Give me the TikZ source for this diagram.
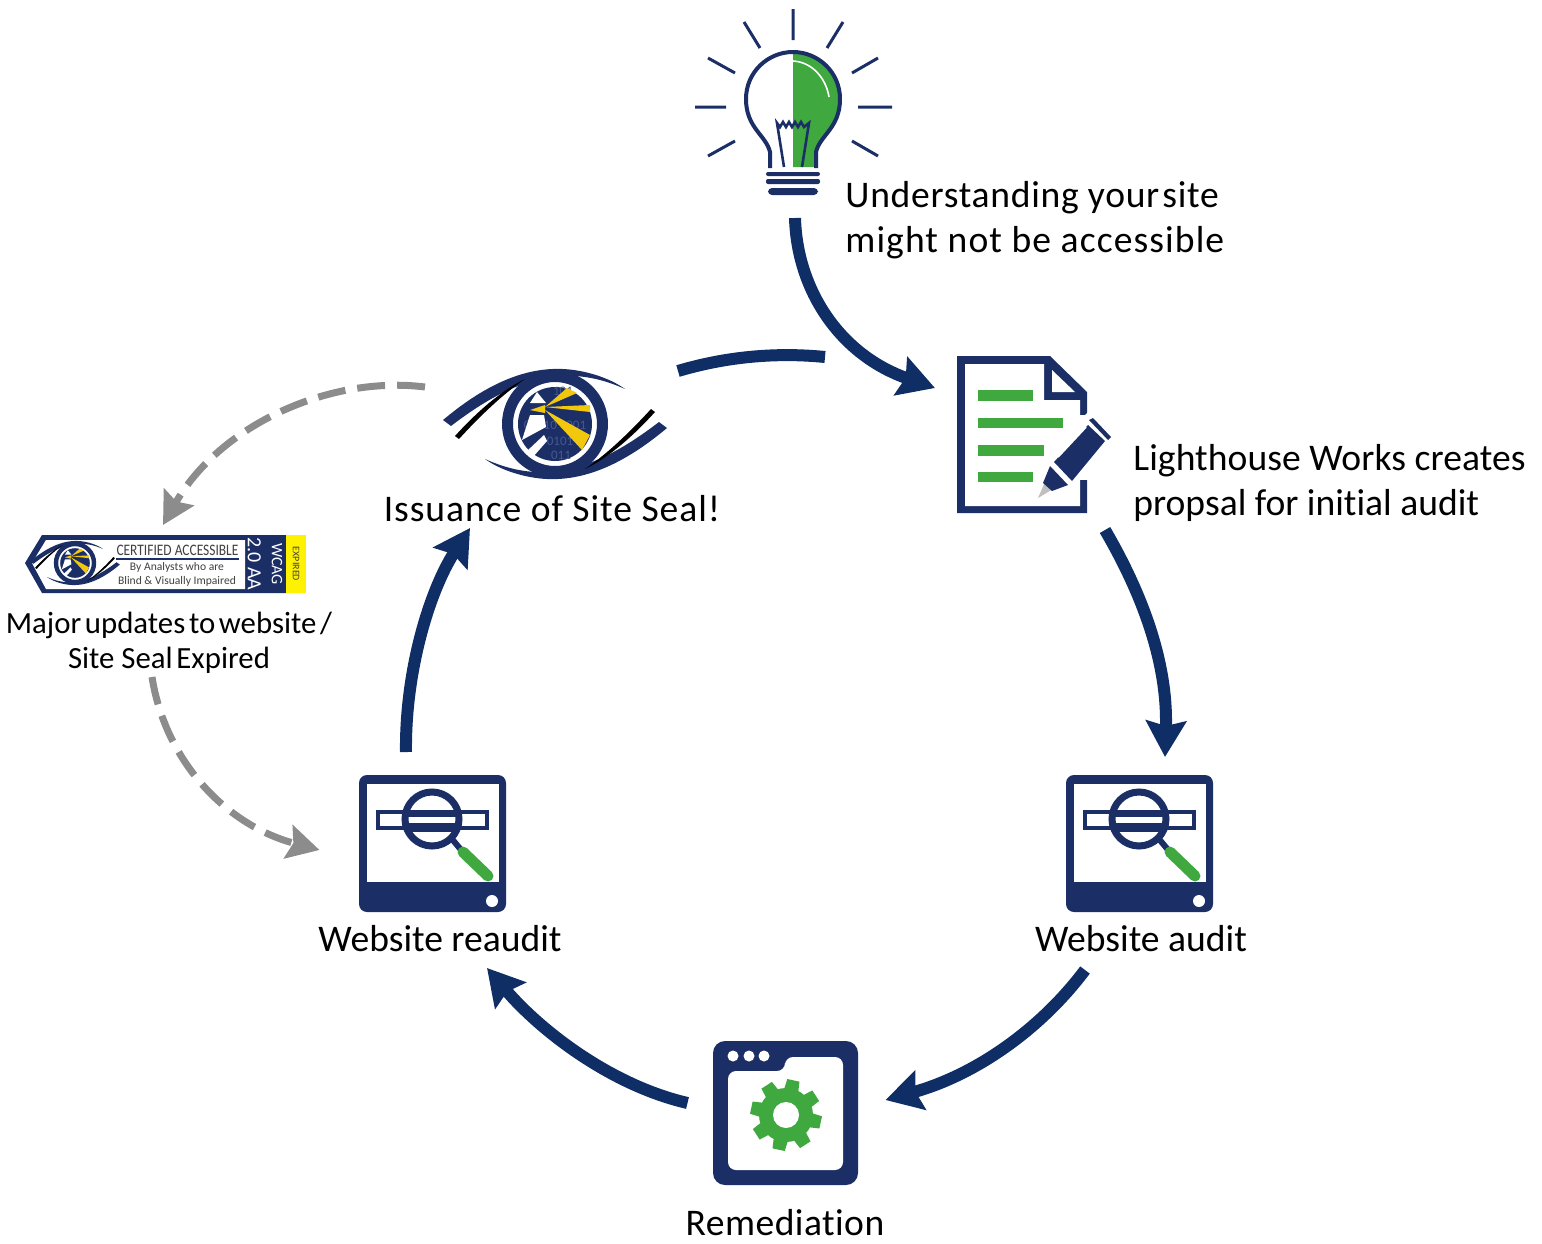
\documentclass[tikz,border=0pt]{standalone}
\usepackage{fontspec}
\usepackage{graphicx}
\setmainfont[Ligatures=CommonOff]{Carlito}
\usetikzlibrary{arrows.meta}
\definecolor{navy}{HTML}{1B2F66}
\definecolor{flownavy}{HTML}{0F2E66}
\definecolor{leaf}{HTML}{3FA83F}
\definecolor{beam}{HTML}{F2C80F}
\definecolor{dashgrey}{HTML}{8C8C8C}
\definecolor{digit}{HTML}{46578F}
\tikzset{
 iconbox/.style={inner sep=0pt,outer sep=0pt},
 flow/.style={draw=flownavy,line width=6pt,-{Stealth[length=18pt,width=20pt,inset=2.5pt]}},
 flowplain/.style={draw=flownavy,line width=6pt},
 update/.style={draw=dashgrey,line width=3.5pt,dash pattern=on 14pt off 6pt,-{Stealth[length=16pt,width=17pt,inset=2.5pt,sep=0pt]}},
 biglabel/.style={inner sep=0pt,font=\fontsize{18.8}{22.5}\selectfont,align=left,text=black},
 midlabel/.style={inner sep=0pt,font=\fontsize{15.4}{17.5}\selectfont,align=center,text=black},
 pics/auditicon/.style={code={
  \fill[navy,rounded corners=4pt] (-73,-68) rectangle (74,69);
  \fill[white] (-65,-59) rectangle (67,39);
  \draw[navy,line width=2.2pt] (-54,-31) rectangle (55,-15);
  \begin{scope}
   \clip (0,-24) circle (27);
   \fill[navy] (-30,-32) rectangle (30,-26);
   \fill[navy] (-30,-20) rectangle (30,-11);
  \end{scope}
  \draw[navy,line width=3.5pt] (0,-24) circle (27);
  \draw[navy,line width=3pt] (20,-4) -- (30,8);
  \draw[leaf,line width=5.5pt,line cap=round] (31,9) -- (56,33);
  \fill[white] (60,58) circle (6);
 }},
 pics/eyelogo/.style={code={
  \foreach \r in {0,180}{
   \begin{scope}[rotate=\r]
   \fill[navy] (-112,-4) .. controls (-75,-35) and (-35,-57) .. (8,-55) .. controls (30,-54) and (55,-46) .. (70,-35) .. controls (50,-44) and (30,-49) .. (8,-48) .. controls (-33,-46) and (-70,-24) .. (-104,2) -- cycle;
   \fill[black] (-100,12) .. controls (-80,-10) and (-55,-33) .. (-30,-45) .. controls (-52,-30) and (-75,-8) .. (-96,15) -- cycle;
   \end{scope}
  }
  \fill[white] (0,0) circle (50);
  \fill[navy,even odd rule] (0,0) circle (53) (0,0) circle (42);
  \fill[navy] (0,0) circle (37);
  #1
  \fill[beam] (-10,-17) -- (12,-36) -- (22,-31) -- cycle;
  \fill[beam] (-10,-17) -- (35,-19) -- (35,-12) -- cycle;
  \fill[beam] (-10,-14) -- (35,11) -- (27,26) -- cycle;
  \fill[beam] (-10,-19) -- (-25,-14) -- (-10,-11) -- cycle;
  \fill[white] (-18,-32) -- (-9,-21) -- (-25,-21) -- cycle;
  \fill[white] (-25,-9) -- (-11,-9) -- (-9,3) -- (-33,16) -- cycle;
  \fill[white] (-28,27) -- (-11,11) -- (-8,17) -- (-22,33) -- cycle;
 }}
}
\begin{document}
\begin{tikzpicture}[x=0.5pt,y=-0.5pt]
\useasboundingbox (0,0) rectangle (1542,1243);

% ---------- anchors for the icons
\node[iconbox,minimum width=98pt,minimum height=72pt] (bulb) at (793,124) {};
\node[iconbox,minimum width=65pt,minimum height=78.5pt] (doc) at (1022,434.5) {};
\node[iconbox,minimum width=73.5pt,minimum height=68.5pt] (audit) at (1139,843) {};
\node[iconbox,minimum width=73pt,minimum height=72pt] (remed) at (785.5,1113) {};
\node[iconbox,minimum width=73.5pt,minimum height=68.5pt] (reaudit) at (432,843) {};
\node[iconbox,minimum width=110pt,minimum height=55pt] (eye) at (555,424) {};
\node[iconbox,minimum width=140.5pt,minimum height=29pt] (seal) at (165.5,564) {};

% ---------- bulb
\fill[leaf] (793,52) .. controls (818,52) and (840,72) .. (840,99) .. controls (840,128) and (820,135) .. (816,152) -- (816,167) -- (793,167) -- cycle;
\draw[white,line width=.8pt] (793,61) .. controls (812,62) and (826,78) .. (829,97);
\draw[navy,line width=2pt] (770,168) -- (770,152) .. controls (766,135) and (746,128) .. (746,99) .. controls (746,72) and (768,52) .. (793,52) .. controls (818,52) and (840,72) .. (840,99) .. controls (840,128) and (820,135) .. (816,152) -- (816,168);
\draw[navy,line width=1.3pt] (784,167) -- (777,123) -- (780,127) -- (783,122) -- (786,127) -- (789,122) -- (792,127) -- (795,122) -- (798,127) -- (801,122) -- (804,127) -- (809,123) -- (802,167);
\fill[navy,rounded corners=1pt] (766,172) rectangle (820,176);
\fill[navy,rounded corners=1pt] (766,179) rectangle (820,184);
\fill[navy,rounded corners=2pt] (768,188) rectangle (818,195);
\draw[navy,line width=1.5pt] (793,9) -- (793,40) (744,22) -- (760,48) (843,22) -- (827,48) (708,58) -- (735,73) (878,58) -- (852,73) (695,107) -- (726,107) (858,107) -- (892,107) (708,156) -- (735,141) (878,156) -- (852,141);

% ---------- document
\fill[navy] (957,356) -- (1050,356) -- (1087,392) -- (1087,513) -- (957,513) -- cycle;
\fill[white] (965,364) -- (1044,364) -- (1044,400) -- (1080,400) -- (1080,506) -- (965,506) -- cycle;
\fill[white] (1052,370) -- (1052,392) -- (1075,392) -- cycle;
\fill[white] (1079,415) rectangle (1089,480);
\fill[leaf] (978,390) rectangle (1033,401);
\fill[leaf] (978,418) rectangle (1063,428);
\fill[leaf] (978,445) rectangle (1044,456);
\fill[leaf] (978,472) rectangle (1033,482);
\fill[white] (1040,500) -- (1052,455) -- (1120,420) -- (1095,405) -- (1060,440) -- cycle;
\fill[lightgray] (1038,498) -- (1045,482) -- (1053,489) -- cycle;
\fill[navy] (1050,466) -- (1068,485) -- (1052,491) -- (1043,483) -- cycle;
\fill[navy] (1054,462) -- (1088,425) -- (1105,441) -- (1072,481) -- cycle;
\fill[navy] (1089,420) -- (1093,418) -- (1111,437) -- (1108,440) -- cycle;
\draw[white,line width=.9pt] (1058,457) -- (1086,427);

% ---------- audit icons and remediation
\pic at (432,843) {auditicon};
\pic at (1139,843) {auditicon};

\fill[navy,rounded corners=6pt] (713,1041) rectangle (858,1185);
\fill[white,rounded corners=4pt] (728,1071) -- (785,1071) -- (785,1057) -- (843,1057) -- (843,1170) -- (728,1170) -- cycle;
\foreach \dx in {733,749,764} \fill[white] (\dx,1056) circle (5.5);
\begin{scope}[shift={(786,1115)}]
 \fill[leaf] (0,0) circle (27);
 \foreach \a in {12,57,...,327}
  \fill[leaf] ({\a-17}:25) -- ({\a-10}:36) -- ({\a+10}:36) -- ({\a+17}:25) -- cycle;
 \fill[white] (0,0) circle (13);
\end{scope}

% ---------- eye
\pic at (555,424) {eyelogo={
  \node[text=digit,font=\fontsize{6.5}{7}\selectfont,inner sep=0pt] at (8,-33) {101};
  \node[text=digit,font=\fontsize{6.5}{7}\selectfont,inner sep=0pt] at (0,1) {01110 1001};
  \node[text=digit,font=\fontsize{6.5}{7}\selectfont,inner sep=0pt] at (5,17) {0101};
  \node[text=digit,font=\fontsize{6.5}{7}\selectfont,inner sep=0pt] at (6,31) {011};
}};

% ---------- seal
\fill[navy] (25,563) -- (42,535) -- (286,535) -- (286,593) -- (42,593) -- cycle;
\fill[white] (32,563) -- (46,540) -- (245,540) -- (245,589) -- (46,589) -- cycle;
\fill[yellow] (286,535) rectangle (306,593);
\pic[scale=.4] at (75,563) {eyelogo={}};
\node[inner sep=0pt,text=black!75] at (177.5,550) {\scalebox{.84}[1]{\fontsize{8}{8}\selectfont CERTIFIED ACCESSIBLE}};
\fill[navy] (116,558) rectangle (239,560);
\node[inner sep=0pt,text=black!75] at (177,567) {\fontsize{5.8}{6}\selectfont By Analysts who are};
\node[inner sep=0pt,text=black!75] at (177,581) {\fontsize{5.8}{6}\selectfont Blind \& Visually Impaired};
\node[inner sep=0pt,text=white,rotate=-90,align=center] at (265,564) {\fontsize{8}{9.5}\selectfont WCAG\\2.0 AA};
\node[inner sep=0pt,text=black!75,rotate=-90] at (296,564) {\fontsize{5}{6}\selectfont EXPIRED};

% ---------- labels
\node[biglabel,anchor=west] (lunder) at (845,220) {{\addfontfeature{LetterSpace=1.9}Understanding your\hspace{.08em}site}\\{\addfontfeature{LetterSpace=2.9}might not be accessible}};
\node[biglabel,anchor=west] (lprop) at (1133,483) {\addfontfeature{LetterSpace=.2}Lighthouse Works creates\\propsal for initial audit};
\node[biglabel,anchor=center] (laudit) at (1141,939) {Website audit};
\node[biglabel,anchor=base] (lremed) at (785,1235) {\addfontfeature{LetterSpace=1.2}Remediation};
\node[biglabel,anchor=center] (lreaudit) at (440,939) {Website reaudit};
\node[biglabel,anchor=center] (lissue) at (552,509) {\addfontfeature{LetterSpace=2.5}Issuance of Site Seal!};
\node[midlabel,anchor=center] (lmajor) at (169,643) {Major\hspace{.12em}updates\hspace{.12em}to\hspace{.12em}website\hspace{.12em}/\\Site Seal\hspace{.12em}Expired};

% ---------- connectors
\draw[flow] ([shift={(2,22)}]bulb.south) .. controls (797,290) and (840,355) .. ([shift={(-22,-46.5)}]doc.west);
\draw[flowplain] ([shift={(13,-53)}]eye.east) .. controls (725,357) and (775,352) .. ([shift={(160,-67)}]eye.east);
\draw[flow] ([shift={(83,17)}]doc.south) .. controls (1140,590) and (1168,660) .. ([shift={(26,-17.5)}]audit.north);
\draw[flow] ([shift={(-54,58.5)}]audit.south) .. controls (1040,1030) and (975,1075) .. ([shift={(27,-13)}]remed.east);
\draw[flow] ([shift={(-25,-10)}]remed.west) .. controls (610,1085) and (540,1030) .. ([shift={(55,56.5)}]reaudit.south);
\draw[flow] ([shift={(-26,-22.5)}]reaudit.north) .. controls (405,670) and (430,590) .. ([shift={(-85,49)}]eye.south);
\draw[update] ([shift={(-130,-37)}]eye.center) .. controls (330,375) and (220,425) .. ([shift={(-2.5,-10)}]seal.north);
\draw[update] ([shift={(-13.5,84)}]seal.south) .. controls (165,760) and (225,825) .. ([shift={(-39,7)}]reaudit.west);
\end{tikzpicture}
\end{document}
